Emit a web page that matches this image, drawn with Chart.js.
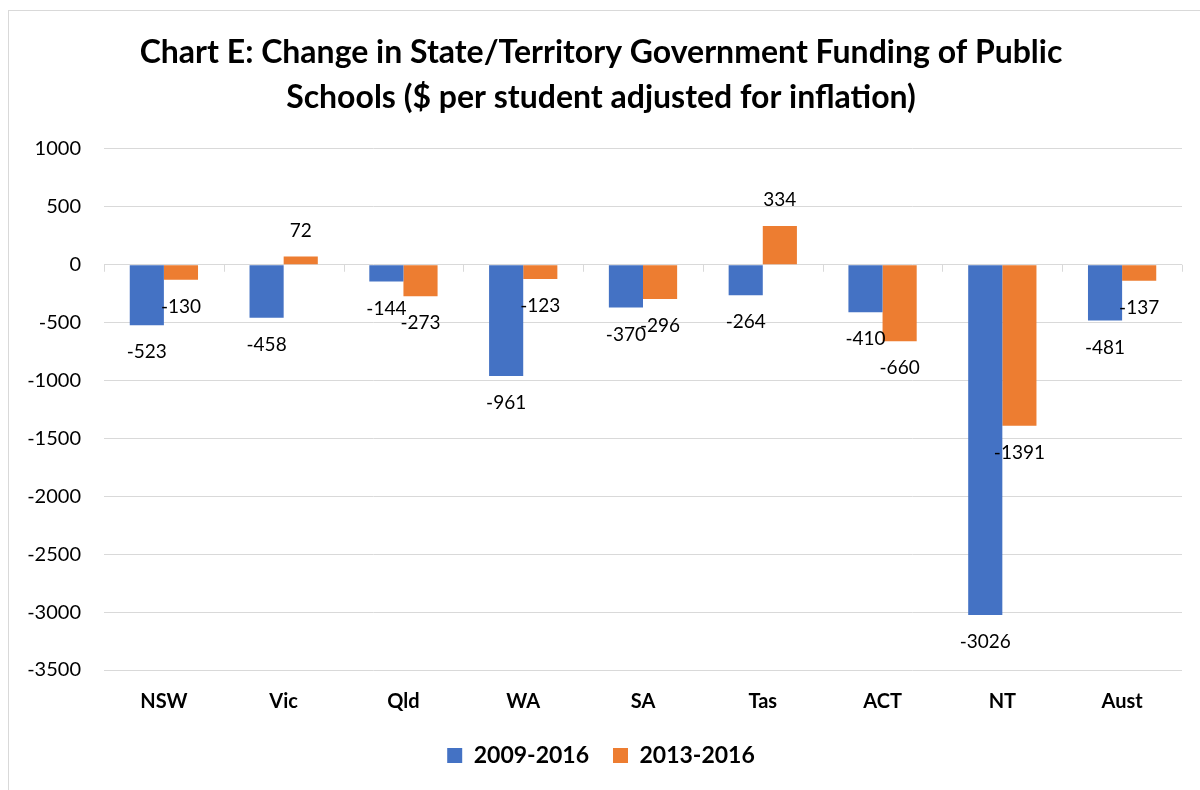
<!DOCTYPE html>
<html>
<head>
<meta charset="utf-8">
<script src="https://cdn.jsdelivr.net/npm/chart.js@4"></script>
<style>
  html, body { margin: 0; padding: 0; background: #fff; }
  #wrap { width: 1200px; height: 790px; position: relative; }
</style>
</head>
<body>
<div id="wrap"><canvas id="chartE"></canvas></div>
<script>
// chart data
var states = ['NSW', 'Vic', 'Qld', 'WA', 'SA', 'Tas', 'ACT', 'NT', 'Aust'];
var change0916 = [-523, -458, -144, -961, -370, -264, -410, -3026, -481];
var change1316 = [-130, 72, -273, -123, -296, 334, -660, -1391, -137];
var yTicks = [1000, 500, 0, -500, -1000, -1500, -2000, -2500, -3000, -3500];

var gridColor = '#d9d9d9';
var fontFam = 'Lato, "Open Sans", sans-serif';

// outer frame like the excel chart area
var framePlugin = {
    id: 'frame',
    beforeDraw: function (chart) {
        var c = chart.ctx;
        c.save();
        c.fillStyle = '#fff';
        c.fillRect(0, 0, chart.width, chart.height);
        c.strokeStyle = gridColor;
        c.lineWidth = 1;
        c.strokeRect(8.5, 10.5, 1200, 800);
        c.restore();
    }
};

// small tick marks on the zero line between categories
var zeroTicks = {
    id: 'zeroTicks',
    afterDraw: function (chart) {
        var c = chart.ctx, area = chart.chartArea;
        var y0 = chart.scales.y.getPixelForValue(0);
        var step = (area.right - area.left) / states.length;
        c.save();
        c.strokeStyle = gridColor;
        c.lineWidth = 1;
        c.beginPath();
        for (var i = 0; i <= states.length; i++) {
            var x = Math.round(area.left + i * step) + 0.5;
            c.moveTo(x, y0);
            c.lineTo(x, y0 + 7);
        }
        c.stroke();
        c.restore();
    }
};

// value labels outside the bar end
var valueLabels = {
    id: 'valueLabels',
    afterDatasetsDraw: function (chart) {
        var c = chart.ctx;
        c.save();
        c.font = '19px ' + fontFam;
        c.fillStyle = '#000';
        c.textAlign = 'center';
        c.textBaseline = 'middle';
        chart.data.datasets.forEach(function (ds, di) {
            chart.getDatasetMeta(di).data.forEach(function (bar, i) {
                var v = ds.data[i];
                var y = v < 0 ? bar.y + 27 : bar.y - 26;
                c.fillText(String(v), bar.x, y);
            });
        });
        c.restore();
    }
};

var ctx = document.getElementById('chartE').getContext('2d');
var chartE = new Chart(ctx, {
    type: 'bar',
    data: {
        labels: states,
        datasets: [
            {
                label: '2009-2016',
                data: change0916,
                backgroundColor: '#4472C4',
                categoryPercentage: 0.57,
                barPercentage: 1.0
            },
            {
                label: '2013-2016',
                data: change1316,
                backgroundColor: '#ED7D31',
                categoryPercentage: 0.57,
                barPercentage: 1.0
            }
        ]
    },
    options: {
        responsive: true,
        maintainAspectRatio: false,
        animation: false,
        layout: {
            padding: { top: 30, left: 20, right: 18, bottom: 13 }
        },
        plugins: {
            title: {
                display: true,
                text: ['Chart E: Change in State/Territory Government Funding of Public',
                       'Schools ($ per student adjusted for inflation)'],
                color: '#000',
                font: { family: fontFam, size: 32, weight: 'bold', lineHeight: 1.406 },
                padding: { top: 0, bottom: 29 }
            },
            legend: {
                position: 'bottom',
                labels: {
                    color: '#000',
                    boxWidth: 15,
                    boxHeight: 15,
                    padding: 24,
                    font: { family: fontFam, size: 23, weight: 'bold' }
                }
            },
            tooltip: { enabled: false }
        },
        scales: {
            x: {
                grid: { display: false, drawTicks: false },
                border: { display: false },
                ticks: {
                    color: '#000',
                    padding: 20,
                    font: { family: fontFam, size: 20, weight: 'bold' }
                },
                afterFit: function (scale) { scale.height = 50; }
            },
            y: {
                min: -3500,
                max: 1000,
                afterBuildTicks: function (scale) {
                    scale.ticks = yTicks.map(function (v) { return { value: v }; });
                },
                grid: { color: gridColor, lineWidth: 1, drawTicks: false },
                border: { display: false },
                ticks: {
                    color: '#000',
                    padding: 23,
                    font: { family: fontFam, size: 20 },
                    callback: function (v) { return String(v); }
                },
                afterFit: function (scale) { scale.width = 84; }
            }
        }
    },
    plugins: [framePlugin, zeroTicks, valueLabels]
});
</script>
</body>
</html>
